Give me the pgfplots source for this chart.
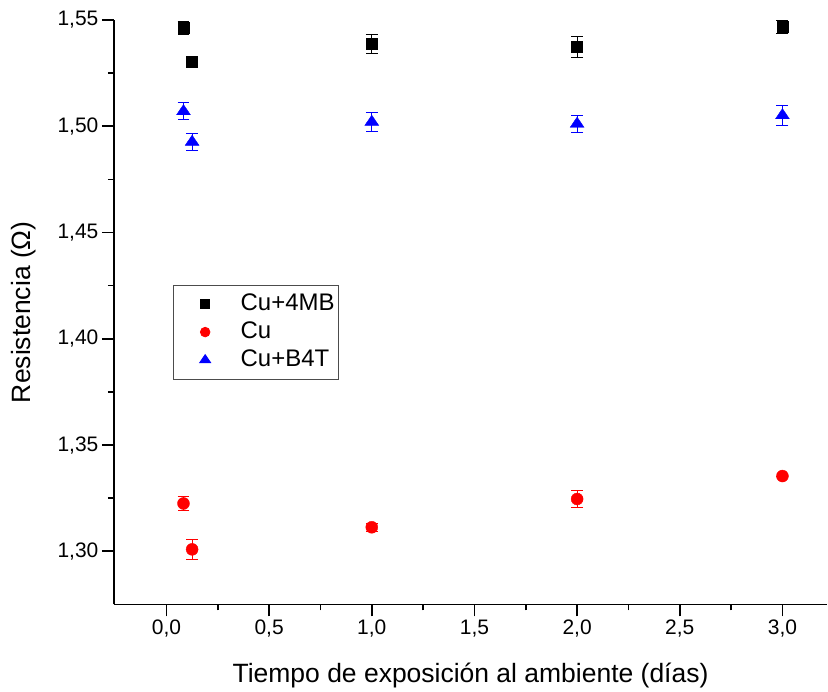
\documentclass[border=0pt]{standalone}
\usepackage{fontspec}
\setmainfont{Liberation Sans}
\usepackage{pgfplots}
\usepackage{pgfplotstable}
\pgfplotsset{compat=1.18}

% x = days, y = resistance, e = error
\pgfplotstableread{
x      y       e
0.083  1.5462  0.0030
0.125  1.5303  0.0000
1      1.5387  0.0045
2      1.5373  0.0050
3      1.5467  0.0030
}\mb
\pgfplotstableread{
x      y       e
0.083  1.3225  0.0035
0.125  1.3009  0.0048
1      1.3113  0.0020
2      1.3246  0.0040
3      1.3354  0.0000
}\cu
\pgfplotstableread{
x      y       e
0.083  1.5070  0.0040
0.125  1.4926  0.0040
1      1.5020  0.0045
2      1.5011  0.0040
3      1.5051  0.0047
}\bft

\begin{document}
\begin{tikzpicture}
\begin{axis}[
  name=ax,
  scale only axis,
  width=714pt, height=585pt,
  xmin=-0.256, xmax=3.218,
  ymin=1.275, ymax=1.55,
  axis lines=left,
  axis line style={-, line width=1.6pt},
  xtick={0,0.5,...,3},
  ytick={1.30,1.35,...,1.55},
  minor x tick num=1,
  minor y tick num=1,
  tick align=outside,
  major tick length=12pt,
  minor tick length=6pt,
  every tick/.style={black, line width=1.6pt},
  /pgf/number format/assume math mode=true,
  /pgf/number format/use comma,
  xticklabel style={/pgf/number format/fixed, /pgf/number format/fixed zerofill, /pgf/number format/precision=1},
  yticklabel style={/pgf/number format/fixed, /pgf/number format/fixed zerofill, /pgf/number format/precision=2},
  tick label style={font=\fontsize{21}{24}\selectfont},
  label style={font=\fontsize{26.5}{30}\selectfont},
  xlabel={Tiempo de exposición al ambiente (días)},
  ylabel={Resistencia (Ω)},
  xlabel style={at={(rel axis cs:0.5,0)}, anchor=base, yshift=-78pt},
  ylabel style={at={(rel axis cs:0,0.5)}, anchor=center, yshift=90pt},
  legend style={at={(rel axis cs:0.0826,0.547)}, anchor=north west,
    draw=black!70, line width=0.8pt, inner xsep=0pt, inner ysep=5pt,
    font=\fontsize{24}{27}\selectfont,
    nodes={font=\fontsize{24}{27}\selectfont, text height=17.5pt, text depth=5.5pt,
      inner ysep=2.5pt, inner xsep=3.5pt}},
  legend image code/.code={%
    \path[draw=none] (0pt,0pt) -- (64pt,0pt);
    \draw[#1, only marks, every mark/.append style={scale=0.8}] plot coordinates {(32pt,0pt)};},
  legend cell align=left,
  clip=false,
]
\addplot[only marks, mark=square*, mark size=5.5pt, black,
  error bars/.cd, y dir=both, y explicit,
  error bar style={line width=1pt},
  error mark options={rotate=90, mark size=6pt, line width=1pt}]
  table[x=x, y=y, y error=e]{\mb};
\addlegendentry{Cu+4MB}
\addplot[only marks, mark=*, mark size=6pt, red,
  error bars/.cd, y dir=both, y explicit,
  error bar style={line width=1pt},
  error mark options={rotate=90, mark size=6pt, line width=1pt}]
  table[x=x, y=y, y error=e]{\cu};
\addlegendentry{Cu}
\addplot[only marks, mark=triangle*, mark size=8pt, blue,
  mark options={yscale=0.85},
  error bars/.cd, y dir=both, y explicit,
  error bar style={line width=1pt},
  error mark options={rotate=90, mark size=6pt, line width=1pt}]
  table[x=x, y=y, y error=e]{\bft};
\addlegendentry{Cu+B4T}
\end{axis}
\path ([xshift=-114pt,yshift=-87pt]ax.south west) rectangle ([yshift=20pt]ax.north east);
\end{tikzpicture}
\end{document}
